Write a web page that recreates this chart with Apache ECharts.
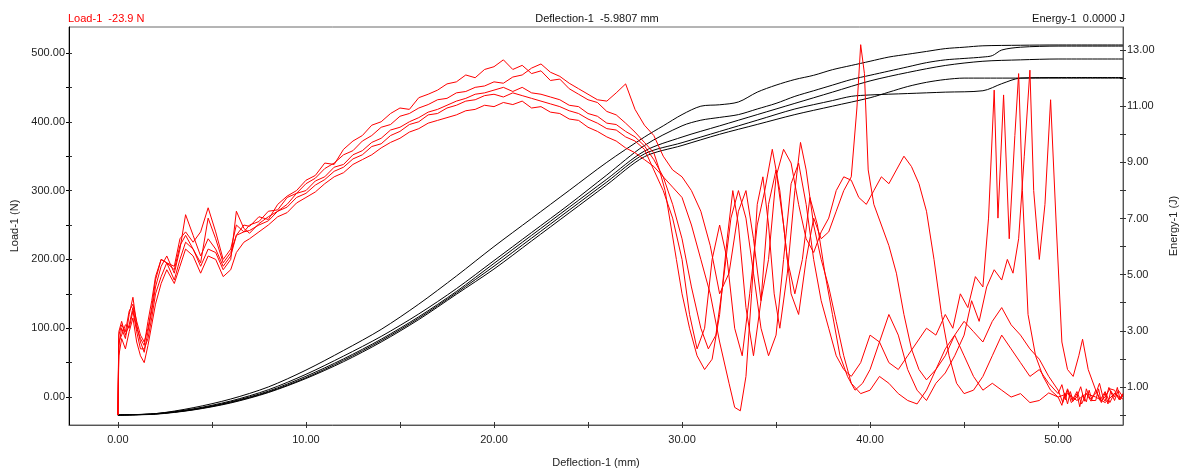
<!DOCTYPE html>
<html>
<head>
<meta charset="utf-8">
<title>Load / Energy vs Deflection</title>
<script src="https://cdn.jsdelivr.net/npm/echarts@6.0.0/dist/echarts.min.js"></script>
<style>
  html, body { margin: 0; padding: 0; background: #fff; }
  #chart { width: 1187px; height: 473px; }
</style>
</head>
<body>
<div id="chart"></div>
<script>
// deflection (mm) positions shared by the start of every load trace
var earlyDefl = [0, 0.05, 0.2, 0.4, 0.6, 0.8, 1.0, 1.2, 1.4, 1.6, 1.8, 2.0, 2.3, 2.6, 3.0, 3.3, 3.6, 4.0, 4.4, 4.8, 5.2, 5.6, 6.0, 6.3, 6.7];
var midDefl = [7, 7.5, 8, 8.5, 9, 9.5, 10, 10.5, 11, 11.5, 12, 12.5, 13, 13.5, 14, 14.5, 15, 15.5, 16, 16.5, 17, 17.5, 18, 18.5, 19, 19.5, 20, 20.5, 21, 21.5, 22, 22.5, 23, 23.5, 24, 24.5, 25, 25.5, 26, 26.5, 27, 27.5, 28];

// load (N) - 5 specimens
var load1Early = [-26, 75, 100, 85, 120, 145, 105, 80, 65, 95, 125, 160, 190, 205, 180, 215, 265, 235, 205, 230, 215, 190, 205, 235, 250];
var load2Early = [-26, 60, 85, 70, 95, 115, 80, 60, 50, 75, 105, 135, 165, 185, 165, 190, 215, 205, 180, 205, 200, 175, 185, 210, 225];
var load3Early = [-26, 90, 105, 95, 125, 135, 110, 90, 80, 100, 130, 170, 200, 195, 190, 230, 240, 225, 240, 275, 240, 200, 215, 250, 240];
var load4Early = [-26, 80, 90, 105, 100, 125, 95, 70, 70, 85, 115, 150, 175, 195, 170, 200, 225, 215, 190, 215, 210, 185, 200, 270, 245];
var load5Early = [-26, 95, 110, 90, 105, 130, 100, 85, 75, 110, 140, 175, 200, 195, 185, 220, 235, 215, 195, 260, 230, 195, 210, 235, 240];

var load1Mid = [248, 262, 258, 280, 292, 300, 315, 322, 340, 338, 360, 372, 380, 395, 400, 412, 420, 418, 435, 440, 446, 455, 458, 468, 464, 476, 480, 490, 476, 482, 470, 474, 460, 462, 448, 440, 432, 428, 415, 410, 398, 385, 370];
var load2Mid = [230, 240, 250, 262, 268, 282, 290, 298, 310, 320, 326, 338, 345, 352, 362, 370, 376, 385, 390, 398, 402, 406, 410, 416, 418, 424, 422, 428, 425, 430, 420, 422, 414, 412, 404, 402, 392, 386, 378, 372, 362, 355, 345];
var load3Mid = [250, 255, 270, 272, 290, 296, 310, 318, 332, 340, 352, 358, 372, 380, 392, 396, 408, 412, 420, 425, 432, 434, 442, 444, 450, 452, 458, 456, 465, 468, 478, 484, 472, 466, 456, 448, 440, 432, 430, 442, 455, 418, 395];
var load4Mid = [238, 252, 262, 270, 280, 296, 300, 314, 320, 334, 338, 352, 358, 370, 376, 388, 392, 400, 406, 414, 418, 424, 430, 434, 440, 442, 446, 450, 444, 450, 442, 440, 436, 432, 424, 422, 412, 408, 398, 396, 386, 378, 365];
var load5Mid = [242, 250, 256, 270, 276, 290, 296, 308, 316, 328, 334, 346, 352, 364, 368, 380, 386, 396, 400, 410, 412, 420, 424, 430, 432, 438, 440, 436, 442, 438, 434, 430, 426, 422, 416, 412, 404, 398, 390, 388, 378, 372, 360];

// after the peak each specimen breaks differently: [deflection, load]
var load1Late = [[28.5, 355], [28.8, 330], [29.1, 300], [29.4, 250], [29.7, 200], [30.0, 150], [30.4, 100], [30.8, 60], [31.2, 40], [31.6, 55], [32.0, 120], [32.4, 230], [32.7, 300], [33.0, 250], [33.4, 130], [33.8, 60], [34.2, 140], [34.6, 280], [35.0, 330], [35.4, 250], [35.8, 150], [36.2, 120], [36.6, 200], [37.0, 260], [37.4, 230], [37.8, 240], [38.2, 270], [38.6, 300], [39.0, 320], [39.3, 420], [39.5, 512], [39.7, 470], [39.9, 330], [40.2, 280], [40.6, 250], [41.0, 220], [41.4, 180], [41.8, 120], [42.2, 70], [42.6, 40], [43.0, 25], [43.5, 40], [44.0, 60], [44.5, 90], [45.0, 110], [45.5, 95], [46.0, 80], [46.5, 110], [47.0, 130], [47.5, 105], [48.0, 90], [48.5, 70], [49.0, 55], [49.5, 30], [50.0, 10], [50.25, -8], [50.5, 12], [50.75, -5], [51, 8], [51.25, -10], [51.5, 5], [51.75, -6], [52, 10], [52.25, -4], [52.5, 8], [52.75, -8], [53, 6], [53.25, -3], [53.45, 5]];
var load2Late = [[28.5, 335], [29.0, 320], [29.5, 305], [30.0, 290], [30.5, 250], [31.0, 200], [31.5, 150], [32.0, 80], [32.5, 20], [32.8, -15], [33.1, -20], [33.4, 30], [33.7, 150], [34.0, 280], [34.3, 320], [34.6, 250], [34.9, 150], [35.2, 100], [35.6, 180], [36.0, 300], [36.3, 370], [36.6, 330], [37.0, 250], [37.4, 200], [37.8, 160], [38.2, 110], [38.6, 60], [39.0, 20], [39.5, 5], [40.0, 10], [40.5, 30], [41.0, 20], [41.5, 5], [42.0, -5], [42.5, -10], [43.0, 10], [43.5, 40], [44.0, 70], [44.5, 90], [45.0, 60], [45.5, 30], [46.0, 10], [46.5, 20], [47, 10], [47.5, 0], [48, 5], [48.5, -8], [49, -5], [49.5, 6], [50, 0], [50.2, -12], [50.35, 6], [50.5, -10], [50.65, 8], [50.8, -6], [51, 5], [51.15, -14], [51.3, 4], [51.5, -7], [51.65, 10], [51.8, -5], [52, -5], [52.15, 12], [52.3, -8], [52.5, 6], [52.65, -10], [52.8, 9], [53, 0], [53.15, 14], [53.3, -4], [53.45, 3]];
var load3Late = [[28.5, 380], [29.0, 350], [29.5, 330], [30.0, 320], [30.5, 300], [31.0, 270], [31.5, 220], [32.0, 150], [32.5, 180], [33.0, 270], [33.4, 300], [33.8, 230], [34.2, 140], [34.6, 200], [35.0, 320], [35.4, 360], [35.8, 340], [36.2, 280], [36.6, 230], [37.0, 210], [37.4, 240], [37.8, 260], [38.2, 300], [38.6, 320], [39.0, 315], [39.4, 290], [39.8, 280], [40.2, 300], [40.6, 320], [41.0, 310], [41.4, 330], [41.8, 350], [42.2, 335], [42.6, 310], [43.0, 270], [43.4, 200], [43.8, 120], [44.2, 60], [44.6, 20], [45.0, 5], [45.5, 10], [46.0, 30], [46.5, 60], [47.0, 90], [47.5, 70], [48.0, 50], [48.5, 30], [49.0, 40], [49.5, 20], [50, 5], [50.2, 18], [50.4, -4], [50.5, 10], [50.7, -8], [51, 0], [51.2, 15], [51.4, -6], [51.5, 12], [51.7, -3], [52, 5], [52.2, 20], [52.4, -2], [52.5, -6], [52.7, 14], [53, -5], [53.2, 10], [53.45, 0]];
var load4Late = [[28.5, 345], [29.0, 320], [29.5, 280], [30.0, 230], [30.5, 160], [31.0, 100], [31.4, 70], [31.8, 90], [32.2, 170], [32.6, 260], [33.0, 300], [33.4, 260], [33.8, 180], [34.2, 100], [34.6, 60], [35.0, 90], [35.4, 200], [35.8, 310], [36.2, 340], [36.6, 280], [37.0, 200], [37.4, 140], [37.8, 100], [38.2, 60], [38.6, 40], [39.0, 30], [39.5, 50], [40.0, 90], [40.5, 80], [41.0, 50], [41.5, 40], [42.0, 60], [42.5, 80], [43.0, 100], [43.5, 90], [44.0, 120], [44.4, 100], [44.8, 150], [45.2, 130], [45.6, 175], [46.0, 160], [46.3, 260], [46.6, 446], [46.8, 260], [47.1, 439], [47.4, 230], [47.7, 380], [47.9, 470], [48.1, 300], [48.4, 120], [48.8, 60], [49.2, 30], [49.6, 10], [50.0, 0], [50.5, 5], [51, -5], [51.5, 5], [52, 0], [52.5, -8], [53, 5], [53.45, -3]];
var load5Late = [[28.5, 330], [29.0, 300], [29.5, 260], [30.0, 200], [30.4, 120], [30.8, 70], [31.2, 100], [31.6, 200], [32.0, 250], [32.4, 200], [32.8, 100], [33.2, 60], [33.6, 150], [34.0, 250], [34.4, 300], [34.8, 360], [35.2, 300], [35.6, 200], [36.0, 150], [36.4, 200], [36.8, 290], [37.2, 250], [37.6, 180], [38.0, 120], [38.4, 60], [38.8, 30], [39.2, 10], [39.6, 20], [40.0, 40], [40.5, 80], [41.0, 120], [41.5, 90], [42.0, 40], [42.5, 10], [43.0, -5], [43.5, 20], [44, 35], [44.5, 60], [45.0, 90], [45.4, 140], [45.8, 110], [46.2, 160], [46.6, 185], [47.0, 170], [47.3, 200], [47.6, 180], [47.9, 230], [48.2, 350], [48.5, 475], [48.7, 300], [49.0, 200], [49.3, 280], [49.6, 432], [49.9, 250], [50.2, 80], [50.5, 40], [50.8, 30], [51.1, 60], [51.3, 84], [51.6, 40], [52.0, 10], [52.25, -6], [52.5, 0], [52.75, 12], [53.0, 10], [53.25, -4], [53.45, 5]];

// energy (J) - 5 specimens: [deflection, energy]
var energy1 = [[0, 0], [2, 0.05], [4, 0.26], [6, 0.57], [8, 1.0], [10, 1.6], [12, 2.3], [14, 3.05], [16, 3.95], [18, 4.95], [20, 6.0], [22, 7.0], [24, 8.0], [26, 9.0], [28, 9.9], [29, 10.3], [30, 10.7], [31, 11.0], [32, 11.05], [33, 11.15], [34, 11.5], [35, 11.75], [36, 11.95], [37, 12.1], [38, 12.3], [39, 12.45], [40, 12.6], [41, 12.75], [42, 12.85], [43, 12.95], [44, 13.05], [45, 13.1], [46, 13.15], [48, 13.17], [50, 13.18], [53.45, 13.18]];
var energy2 = [[0, 0], [2, 0.05], [4, 0.22], [6, 0.5], [8, 0.9], [10, 1.45], [12, 2.1], [14, 2.8], [16, 3.6], [18, 4.5], [20, 5.5], [22, 6.5], [24, 7.5], [26, 8.55], [28, 9.6], [30, 10.3], [31, 10.5], [32, 10.6], [33, 10.7], [34, 10.9], [35, 11.1], [36, 11.35], [37, 11.55], [38, 11.75], [39, 11.95], [40, 12.1], [41, 12.25], [42, 12.4], [43, 12.55], [44, 12.65], [45, 12.7], [46, 12.75], [46.5, 12.8], [47, 13.0], [48, 13.1], [50, 13.14], [53.45, 13.14]];
var energy3 = [[0, 0], [2, 0.04], [4, 0.2], [6, 0.47], [8, 0.85], [10, 1.38], [12, 2.0], [14, 2.7], [16, 3.5], [18, 4.4], [20, 5.4], [22, 6.4], [24, 7.4], [26, 8.4], [28, 9.4], [30, 9.9], [32, 10.3], [34, 10.7], [36, 11.1], [38, 11.5], [40, 11.9], [42, 12.2], [44, 12.45], [46, 12.6], [48, 12.65], [50, 12.68], [53.45, 12.68]];
var energy4 = [[0, 0], [2, 0.04], [4, 0.19], [6, 0.45], [8, 0.82], [10, 1.33], [12, 1.95], [14, 2.65], [16, 3.45], [18, 4.35], [20, 5.3], [22, 6.3], [24, 7.3], [26, 8.3], [28, 9.3], [30, 9.7], [32, 10.1], [34, 10.5], [36, 10.9], [38, 11.2], [39, 11.35], [40, 11.4], [42, 11.45], [44, 11.5], [46, 11.55], [47, 11.8], [48, 12.0], [50, 12.02], [53.45, 12.02]];
var energy5 = [[0, 0], [2, 0.03], [4, 0.18], [6, 0.43], [8, 0.8], [10, 1.3], [12, 1.9], [14, 2.6], [16, 3.4], [18, 4.3], [20, 5.2], [22, 6.2], [24, 7.2], [26, 8.2], [28, 9.2], [30, 9.6], [32, 10.0], [34, 10.35], [36, 10.7], [38, 11.0], [40, 11.3], [41, 11.5], [42, 11.7], [43, 11.85], [44, 11.95], [45, 12.0], [53.45, 12.0]];

// axis labels / ticks
var xLabels = [0, 10, 20, 30, 40, 50];
var xTicks = [0, 5, 10, 15, 20, 25, 30, 35, 40, 45, 50];
var loadLabels = [0, 100, 200, 300, 400, 500];
var loadTicks = [0, 50, 100, 150, 200, 250, 300, 350, 400, 450, 500];
var energyLabels = [1, 3, 5, 7, 9, 11, 13];
var energyTicks = [0, 1, 2, 3, 4, 5, 6, 7, 8, 9, 10, 11, 12, 13];

function buildLoad(early, mid, late) {
  var out = [];
  for (var i = 0; i < earlyDefl.length; i++) out.push([earlyDefl[i], early[i]]);
  for (var j = 0; j < midDefl.length; j++) out.push([midDefl[j], mid[j]]);
  return out.concat(late);
}

var font = "'Liberation Sans', Arial, sans-serif";
var loads = [
  buildLoad(load1Early, load1Mid, load1Late),
  buildLoad(load2Early, load2Mid, load2Late),
  buildLoad(load3Early, load3Mid, load3Late),
  buildLoad(load4Early, load4Mid, load4Late),
  buildLoad(load5Early, load5Mid, load5Late)
];
var energies = [energy1, energy2, energy3, energy4, energy5];

var series = [];
energies.forEach(function (d, i) {
  series.push({
    name: 'Energy-' + (i + 1), type: 'line', xAxisIndex: 0, yAxisIndex: 1, data: d,
    showSymbol: false, smooth: 0.3, lineStyle: { color: '#000', width: 1 }, z: 2
  });
});
loads.forEach(function (d, i) {
  series.push({
    name: 'Load-' + (i + 1), type: 'line', xAxisIndex: 0, yAxisIndex: 0, data: d,
    showSymbol: false, lineStyle: { color: '#ff0000', width: 1 }, z: 3
  });
});

var headStyle = { fontSize: 11, fontWeight: 'normal', fontFamily: font };
var labelStyle = { color: '#222', fontSize: 11, fontFamily: font };
function fmt2(v) { return v.toFixed(2); }

// the instrument draws ticks across the axis: a second, bare axis adds the inner half
function innerTicks(base, ticks) {
  return Object.assign({}, base, {
    name: '', axisLine: { show: false, onZero: false },
    axisLabel: { show: false },
    axisTick: { show: true, inside: true, customValues: ticks, length: 3, lineStyle: { color: '#333' } },
    splitLine: { show: false }
  });
}

var xMain = {
  type: 'value', min: -2.6, max: 53.45, position: 'bottom',
  name: 'Deflection-1 (mm)', nameLocation: 'middle', nameGap: 32,
  nameTextStyle: labelStyle,
  axisLine: { onZero: false, lineStyle: { color: '#555' } },
  axisTick: { customValues: xTicks, length: 3, lineStyle: { color: '#333' } },
  axisLabel: Object.assign({ customValues: xLabels, margin: 9, formatter: fmt2 }, labelStyle),
  splitLine: { show: false }
};
var yLoad = {
  type: 'value', min: -40.6, max: 537.7, position: 'left',
  name: 'Load-1 (N)', nameLocation: 'middle', nameRotate: 90, nameGap: 48,
  nameTextStyle: labelStyle,
  axisLine: { show: true, onZero: false, lineStyle: { color: '#000' } },
  axisTick: { show: true, customValues: loadTicks, length: 3, lineStyle: { color: '#000' } },
  axisLabel: Object.assign({ customValues: loadLabels, margin: 4, formatter: fmt2 }, labelStyle),
  splitLine: { show: false }
};
var yEnergy = {
  type: 'value', min: -0.355, max: 13.82, position: 'right',
  name: 'Energy-1 (J)', nameLocation: 'middle', nameRotate: 90, nameGap: 45,
  nameTextStyle: labelStyle,
  axisLine: { show: true, onZero: false, lineStyle: { color: '#555' } },
  axisTick: { show: true, customValues: energyTicks, length: 3, lineStyle: { color: '#333' } },
  axisLabel: Object.assign({ customValues: energyLabels, margin: 4, formatter: fmt2 }, labelStyle),
  splitLine: { show: false }
};

var myChart = echarts.init(document.getElementById('chart'), null, { renderer: 'canvas' });
myChart.setOption({
  animation: false,
  backgroundColor: '#fff',
  textStyle: { fontFamily: font },
  title: [
    { text: 'Load-1  -23.9 N', left: 68, top: 13, padding: 0, textStyle: Object.assign({ color: '#ff0000' }, headStyle) },
    { text: 'Deflection-1  -5.9807 mm', left: 597, top: 13, padding: 0, textAlign: 'center', textStyle: Object.assign({ color: '#111' }, headStyle) },
    { text: 'Energy-1  0.0000 J', right: 62, top: 13, padding: 0, textStyle: Object.assign({ color: '#111' }, headStyle) }
  ],
  grid: {
    left: 69, top: 27, right: 62, bottom: 47,
    show: true, borderColor: '#6a6a6a', borderWidth: 1, backgroundColor: '#fff'
  },
  xAxis: [xMain, innerTicks(xMain, xTicks)],
  yAxis: [yLoad, yEnergy, innerTicks(yLoad, loadTicks), innerTicks(yEnergy, energyTicks)],
  series: series
});
window.addEventListener('resize', function () {
  myChart.resize();
});
</script>
</body>
</html>
